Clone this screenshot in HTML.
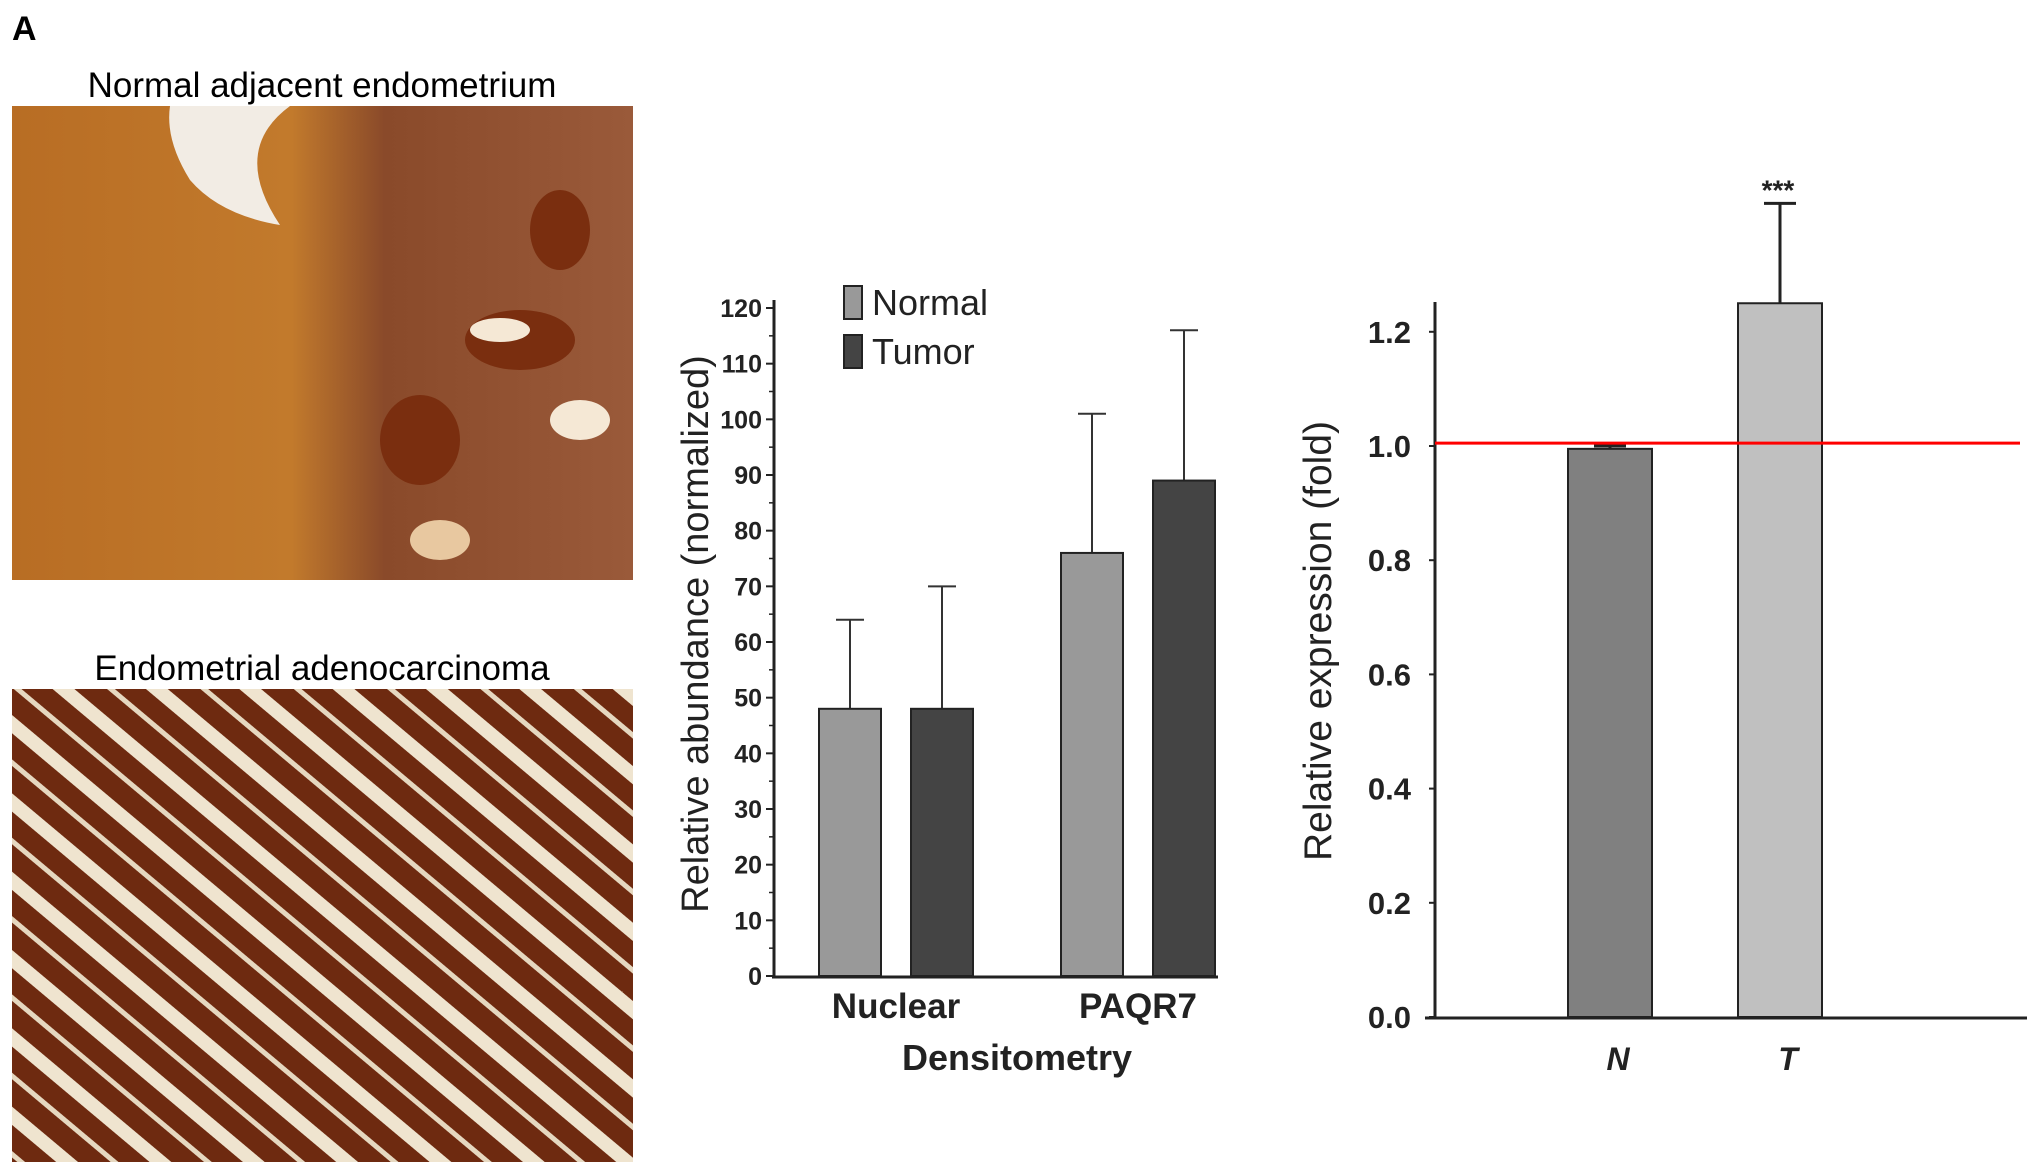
<!DOCTYPE html>
<html><head><meta charset="utf-8"><style>
body{margin:0;background:#fff;width:2031px;height:1175px;overflow:hidden;font-family:"Liberation Sans",sans-serif}
svg{position:absolute;left:0;top:0}
</style></head><body>
<svg width="2031" height="1175" xmlns="http://www.w3.org/2000/svg">
<defs>
<linearGradient id="g1" x1="0" y1="0" x2="1" y2="0"><stop offset="0" stop-color="#b86d24"/><stop offset="0.45" stop-color="#c27a2c"/><stop offset="0.6" stop-color="#8a4a2a"/><stop offset="1" stop-color="#9a5a3a"/></linearGradient>
<pattern id="stripes" width="60" height="60" patternUnits="userSpaceOnUse" patternTransform="rotate(40)"><rect width="60" height="60" fill="#6e2a10"/><rect y="0" width="60" height="14" fill="#efe4cf"/><rect y="34" width="60" height="5" fill="#e6d8c0"/></pattern>
</defs>
<text x="12" y="40" font-size="34" font-weight="bold">A</text>
<text x="322" y="97" font-size="35" text-anchor="middle">Normal adjacent endometrium</text>
<g>
<rect x="12" y="106" width="621" height="474" fill="url(#g1)"/>
<path d="M170 106 L290 106 Q230 150 280 225 Q220 215 190 180 Q165 140 170 106Z" fill="#f2ece4"/>
<ellipse cx="520" cy="340" rx="55" ry="30" fill="#7a2e0f"/><ellipse cx="420" cy="440" rx="40" ry="45" fill="#7a2e0f"/>
<ellipse cx="580" cy="420" rx="30" ry="20" fill="#f5e8d5"/><ellipse cx="440" cy="540" rx="30" ry="20" fill="#e8c8a0"/>
<ellipse cx="560" cy="230" rx="30" ry="40" fill="#7a2e0f"/><ellipse cx="500" cy="330" rx="30" ry="12" fill="#f5e8d5"/>
</g>
<text x="322" y="680" font-size="35" text-anchor="middle">Endometrial adenocarcinoma</text>
<rect x="12" y="689" width="621" height="473" fill="url(#stripes)"/>
<g id="c1"></g>
<g id="c2"></g>
</svg>
<script>
const cats1=["Nuclear","PAQR7"];
const normalVals=[48,76];
const tumorVals=[48,89];
const normalErr=[64,101];
const tumorErr=[70,116];
const ticks1=[0,10,20,30,40,50,60,70,80,90,100,110,120];
const cats2=["N","T"];
const exprVals=[0.995,1.25];
const exprErr=[1.0,1.425];
const ticks2=["0.0","0.2","0.4","0.6","0.8","1.0","1.2"];
const NS="http://www.w3.org/2000/svg";
function mk(p,t,a,txt){const e=document.createElementNS(NS,t);for(const k in a)e.setAttribute(k,a[k]);if(txt!==undefined)e.textContent=txt;p.appendChild(e);return e;}
// chart 1
const c1=document.getElementById('c1');
const y1=v=>976-(v/120)*668;
const groupX=[896,1138];
let e=mk(c1,'line',{x1:774,y1:300,x2:774,y2:977,stroke:'#222','stroke-width':3});


e=mk(c1,'line',{x1:772,y1:977,x2:1218,y2:977,stroke:'#222','stroke-width':3});


ticks1.forEach(t=>{
 mk(c1,'line',{x1:766,y1:y1(t),x2:774,y2:y1(t),stroke:'#222','stroke-width':2});
 if(t<120)mk(c1,'line',{x1:769,y1:y1(t+5),x2:774,y2:y1(t+5),stroke:'#222','stroke-width':1.5});
 e=mk(c1,'text',{x:762,y:y1(t)+9,'font-size':25,'font-weight':'bold','text-anchor':'end',fill:'#222'},t);
 
 
});
cats1.forEach((c,i)=>{
 [[normalVals[i],normalErr[i],'#999',-46],[tumorVals[i],tumorErr[i],'#444',46]].forEach(([v,er,col,off],j)=>{
  const cx=groupX[i]+off;
  mk(c1,'line',{x1:cx,y1:y1(er),x2:cx,y2:y1(v),stroke:'#333','stroke-width':2});
  mk(c1,'line',{x1:cx-14,y1:y1(er),x2:cx+14,y2:y1(er),stroke:'#333','stroke-width':2});
  e=mk(c1,'rect',{x:cx-31,y:y1(v),width:62,height:976-y1(v),fill:col,stroke:'#222','stroke-width':2});
  
  
 });
 e=mk(c1,'text',{x:groupX[i],y:1018,'font-size':35,'font-weight':'bold','text-anchor':'middle',fill:'#222'},c);
 
 
});
e=mk(c1,'text',{x:1017,y:1070,'font-size':36,'font-weight':'bold','text-anchor':'middle',fill:'#222'},'Densitometry');


e=mk(c1,'text',{x:0,y:0,'font-size':38,'text-anchor':'middle',fill:'#222',transform:'translate(708,634) rotate(-90)'},'Relative abundance (normalized)');


[['Normal','#999',286],['Tumor','#444',335]].forEach(([l,col,y])=>{
 e=mk(c1,'rect',{x:844,y:y,width:18,height:33,fill:col,stroke:'#222','stroke-width':2});
 
 
 e=mk(c1,'text',{x:872,y:y+29,'font-size':36,fill:'#222'},l);
 
 
});
// chart 2
const c2=document.getElementById('c2');
const y2=v=>1017-v*571;
const x2=[1610,1780];
e=mk(c2,'line',{x1:1435,y1:302,x2:1435,y2:1018,stroke:'#222','stroke-width':3});


e=mk(c2,'line',{x1:1425,y1:1018,x2:2027,y2:1018,stroke:'#222','stroke-width':3});


ticks2.forEach(t=>{
 const v=parseFloat(t);
 mk(c2,'line',{x1:1429,y1:y2(v),x2:1435,y2:y2(v),stroke:'#222','stroke-width':2});
 e=mk(c2,'text',{x:1411,y:y2(v)+11,'font-size':31,'font-weight':'bold','text-anchor':'end',fill:'#222'},t);
 
 
});
const cols2=['#808080','#c0c0c0'];
cats2.forEach((c,i)=>{
 const cx=x2[i];
 mk(c2,'line',{x1:cx,y1:y2(exprErr[i]),x2:cx,y2:y2(exprVals[i]),stroke:'#222','stroke-width':3});
 mk(c2,'line',{x1:cx-16,y1:y2(exprErr[i]),x2:cx+16,y2:y2(exprErr[i]),stroke:'#222','stroke-width':3});
 e=mk(c2,'rect',{x:cx-42,y:y2(exprVals[i]),width:84,height:1017-y2(exprVals[i]),fill:cols2[i],stroke:'#222','stroke-width':2});
 
 
 e=mk(c2,'text',{x:cx+8,y:1070,'font-size':32,'font-weight':'bold','font-style':'italic','text-anchor':'middle',fill:'#222'},c);
 
 
});
e=mk(c2,'text',{x:x2[1]-2,y:y2(exprErr[1])-4,'font-size':28,'font-weight':'bold','text-anchor':'middle',fill:'#222'},'***');


e=mk(c2,'line',{x1:1435,y1:y2(1.005),x2:2020,y2:y2(1.005),stroke:'#f00','stroke-width':3});


e=mk(c2,'text',{x:0,y:0,'font-size':39,'text-anchor':'middle',fill:'#222',transform:'translate(1331,641) rotate(-90)'},'Relative expression (fold)');


</script>
</body></html>
